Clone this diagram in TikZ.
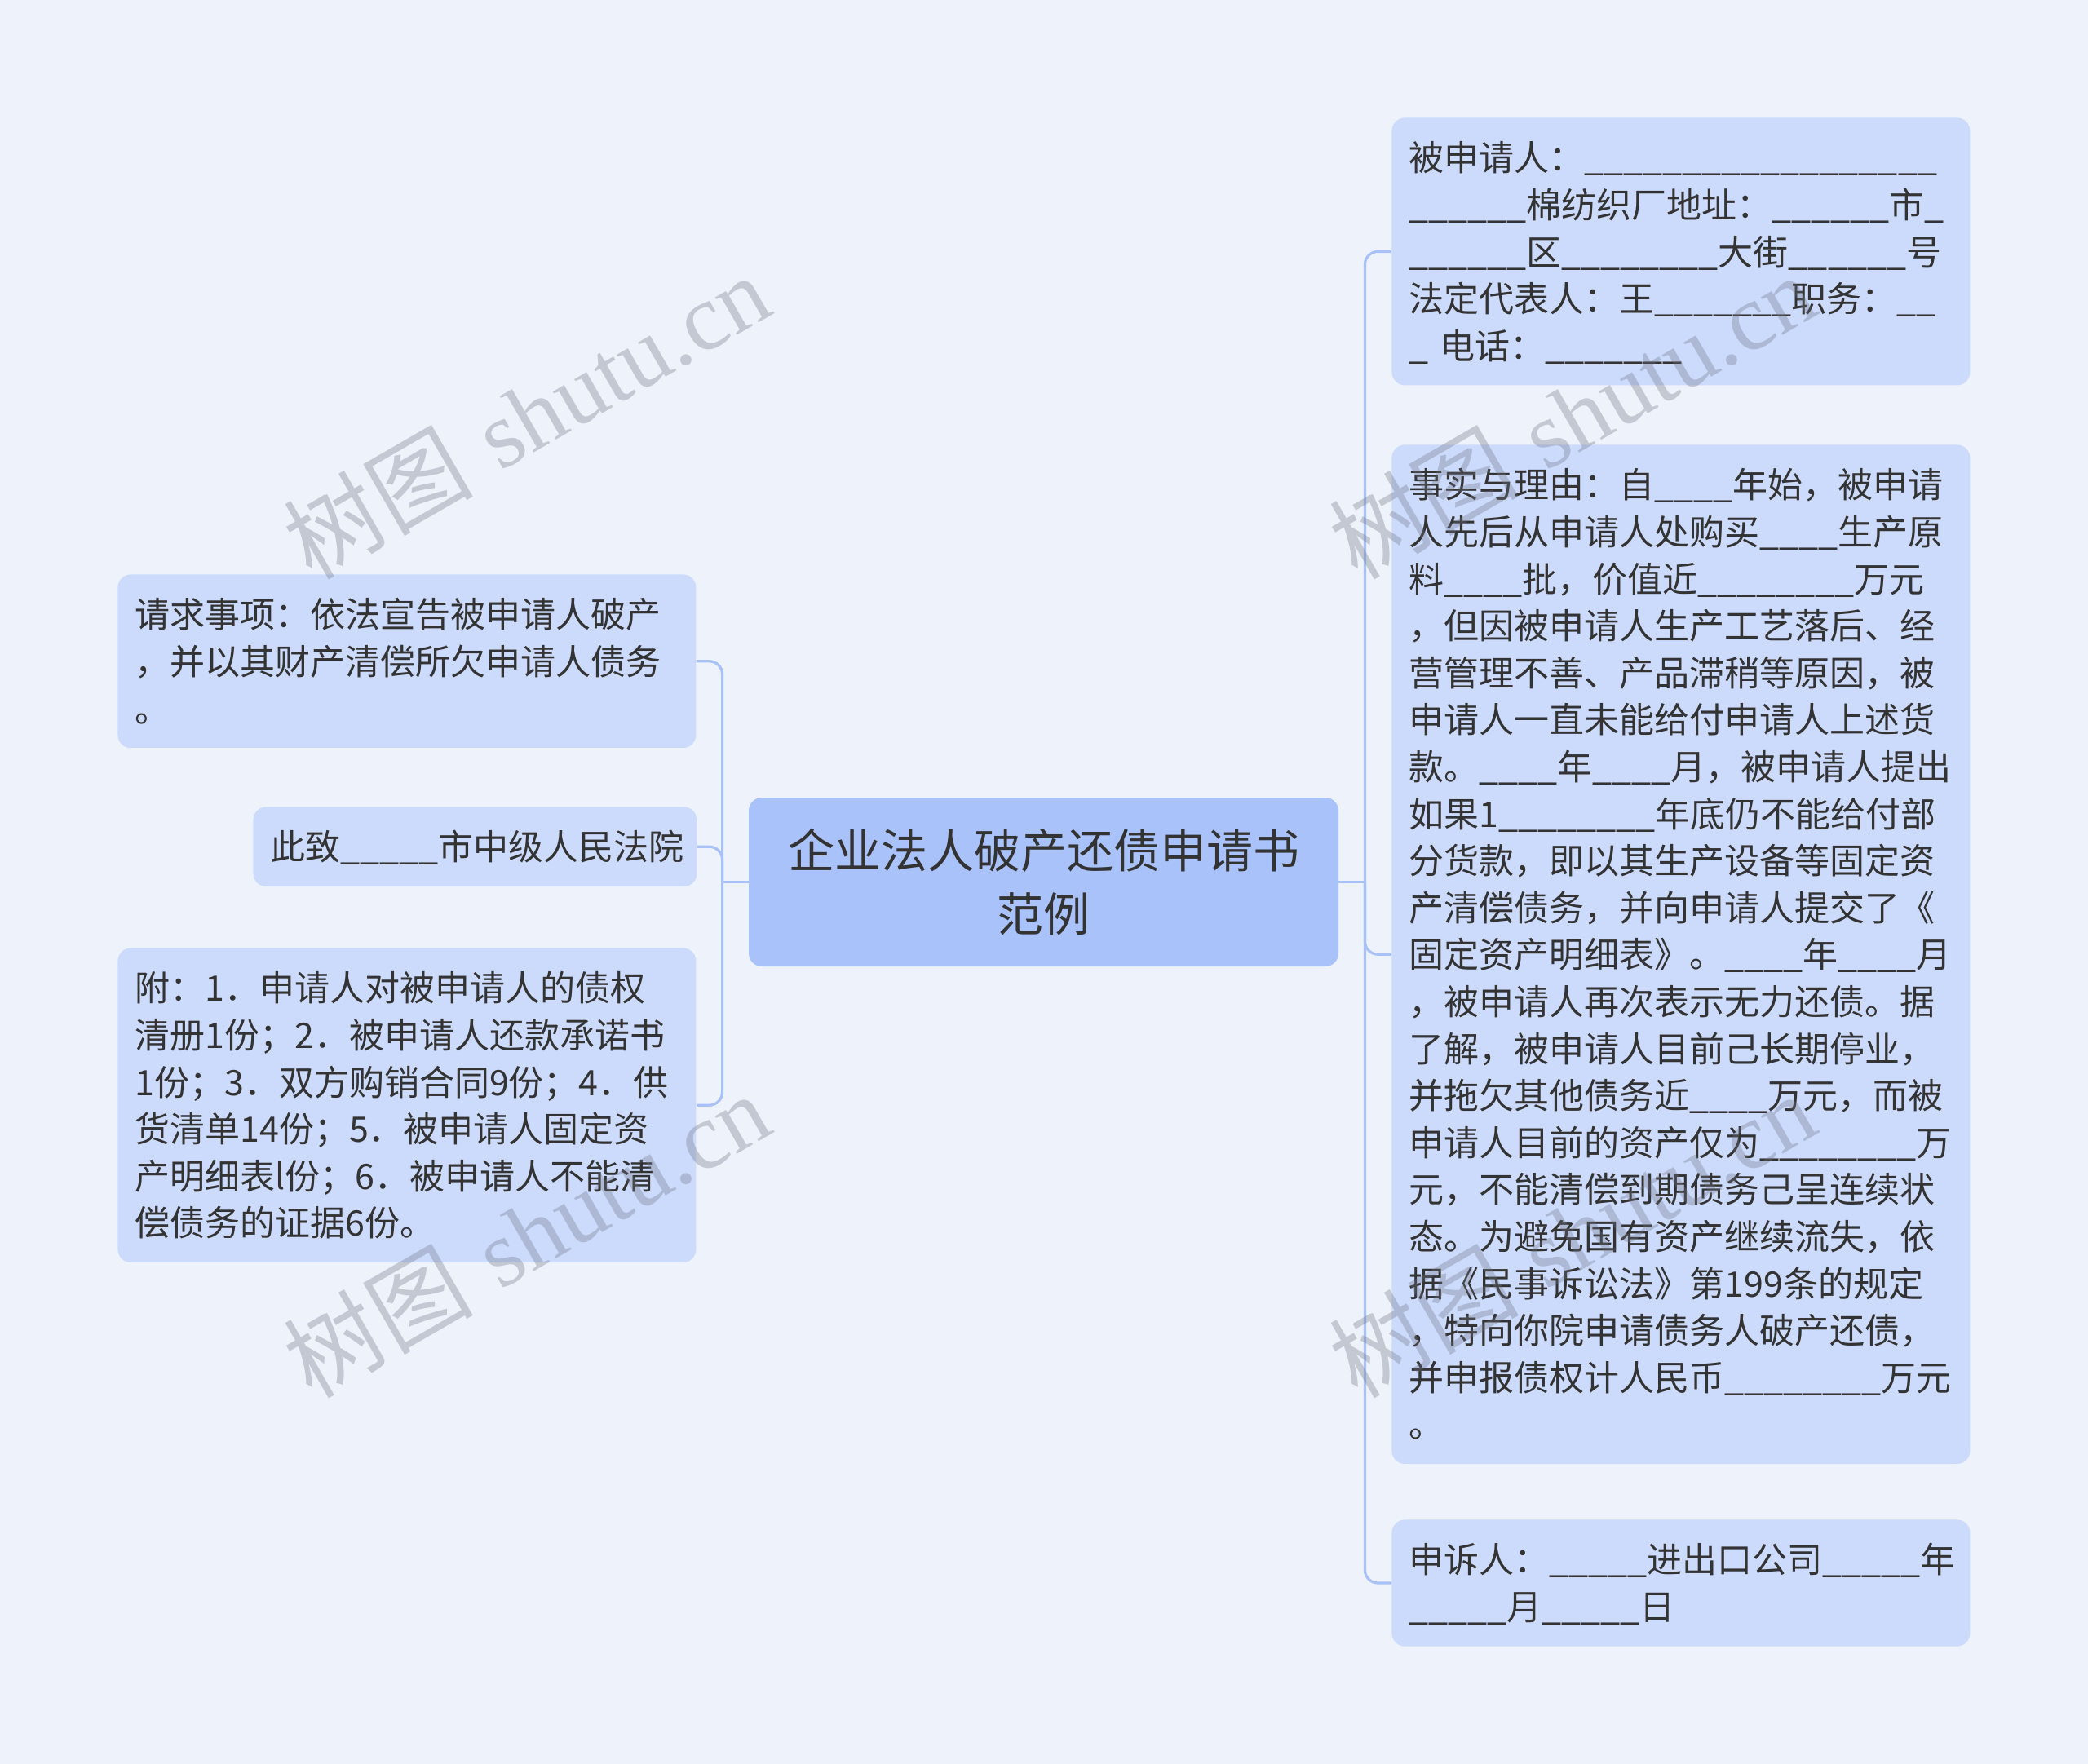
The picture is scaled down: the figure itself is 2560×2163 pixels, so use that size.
\documentclass[tikz,border=0pt]{standalone}
\usepackage{fontspec}
\newfontfamily\cjk{Noto Sans CJK SC}
\newfontfamily\wmserif{Liberation Serif}
\usetikzlibrary{calc}
\definecolor{bgc}{RGB}{238,242,251}
\definecolor{leafc}{RGB}{204,219,252}
\definecolor{rootc}{RGB}{169,195,250}
\definecolor{linec}{RGB}{168,194,247}
\definecolor{txtc}{RGB}{51,51,51}
\definecolor{wmc}{RGB}{110,116,132}
\newcommand\bl[1]{\ifnum#1>0 \_\expandafter\bl\expandafter{\the\numexpr#1-1\relax}\fi}
\newcommand\blS{\bl{4}}
\newcommand\blL{\bl{8}}
\newcommand\topS{\rule{0pt}{22.7pt}}
\newcommand\botS{\rule[-6.1pt]{0pt}{6.1pt}}
\begin{document}
\begin{tikzpicture}[x=0.5pt,y=-0.5pt,
  leaf/.style={fill=leafc, rounded corners=8pt, text=txtc,
    font=\cjk\fontsize{21.5pt}{28.8pt}\selectfont, align=left,
    inner xsep=10.5pt, inner ysep=10pt, anchor=north west},
  wideleaf/.style={leaf, text width=333.5pt},
  rootbox/.style={fill=rootc, rounded corners=8pt, text=txtc,
    font=\cjk\fontsize{28.5pt}{39pt}\selectfont, align=center,
    minimum width=361.5pt, minimum height=103.5pt, inner sep=0pt},
  conn/.style={draw=linec, line width=1.6pt, rounded corners=8pt},
  wm/.style={rotate=30, text=wmc, opacity=0.33, inner sep=0pt}]
\useasboundingbox (0,0) rectangle (2560,2163);
\fill[bgc] (0,0) rectangle (2560,2163);

% root
\node[rootbox] (root) at (1279.5,1081.5) {企业法人破产还债申请书\\范例};

% left leaves
\node[wideleaf] (L1) at (144,704) {\topS 请求事项：依法宣告被申请人破产\\，并以其财产清偿所欠申请人债务\\。\botS};
\node[leaf, text width=251pt] (L2) at (310,989) {\topS 此致\bl{5}市中级人民法院\botS};
\node[wideleaf] (L3) at (144,1162) {\topS 附：1．申请人对被申请人的债权\\清册1份；2．被申请人还款承诺书\\1份；3．双方购销合同9份；4．供\\货清单14份；5．被申请人固定资\\产明细表l份；6．被申请人不能清\\偿债务的证据6份。\botS};

% right leaves
\node[wideleaf] (R1) at (1706,144) {\topS 被申请人：\bl{18}\\\bl{6}棉纺织厂地址：\bl{6}市\bl{1}\\\bl{6}区\bl{8}大街\bl{6}号\\法定代表人：王\bl{7}职务：\bl{2}\\\bl{1}~电话：\bl{7}\botS};
\node[wideleaf] (R2) at (1706,545) {\topS 事实与理由：自\blS 年始，被申请\\人先后从申请人处购买\blS 生产原\\料\blS 批，价值近\blL 万元\\，但因被申请人生产工艺落后、经\\营管理不善、产品滞稍等原因，被\\申请人一直未能给付申请人上述货\\款。\blS 年\blS 月，被申请人提出\\如果1\blL 年底仍不能给付部\\分货款，即以其生产设备等固定资\\产清偿债务，并向申请人提交了《\\固定资产明细表》。\blS 年\blS 月\\，被申请人再次表示无力还债。据\\了解，被申请人目前己长期停业，\\并拖欠其他债务近\blS 万元，而被\\申请人目前的资产仅为\blL 万\\元，不能清偿到期债务己呈连续状\\态。为避免国有资产继续流失，依\\据《民事诉讼法》第199条的规定\\，特向你院申请债务人破产还债，\\并申报债权计人民币\blL 万元\\。\botS};
\node[wideleaf] (R3) at (1706,1863) {\topS 申诉人：\bl{5}进出口公司\bl{5}年\\\bl{5}月\bl{5}日\botS};

% connectors
\coordinate (jl) at ($(root.west)+(-32,0)$);
\coordinate (jr) at ($(root.east)+(32,0)$);
\draw[conn] (root.west) -- (jl);
\draw[conn] (jl) |- (L1.east);
\draw[conn] (jl) |- (L2.east);
\draw[conn] (jl) |- (L3.east);
\draw[conn] (root.east) -- (jr);
\draw[conn] (jr) |- (R1.west);
\draw[conn] (jr) |- (R2.west);
\draw[conn] (jr) |- (R3.west);

% watermarks
\foreach \p/\n in {{(645,510)}/w1,{(645,1514)}/w2,{(1927,510)}/w3,{(1927,1514)}/w4}{
  \node[wm] (\n) at \p {\fontsize{58pt}{66pt}\selectfont{\cjk 树图} {\wmserif shutu.cn}};
}
\end{tikzpicture}
\end{document}
